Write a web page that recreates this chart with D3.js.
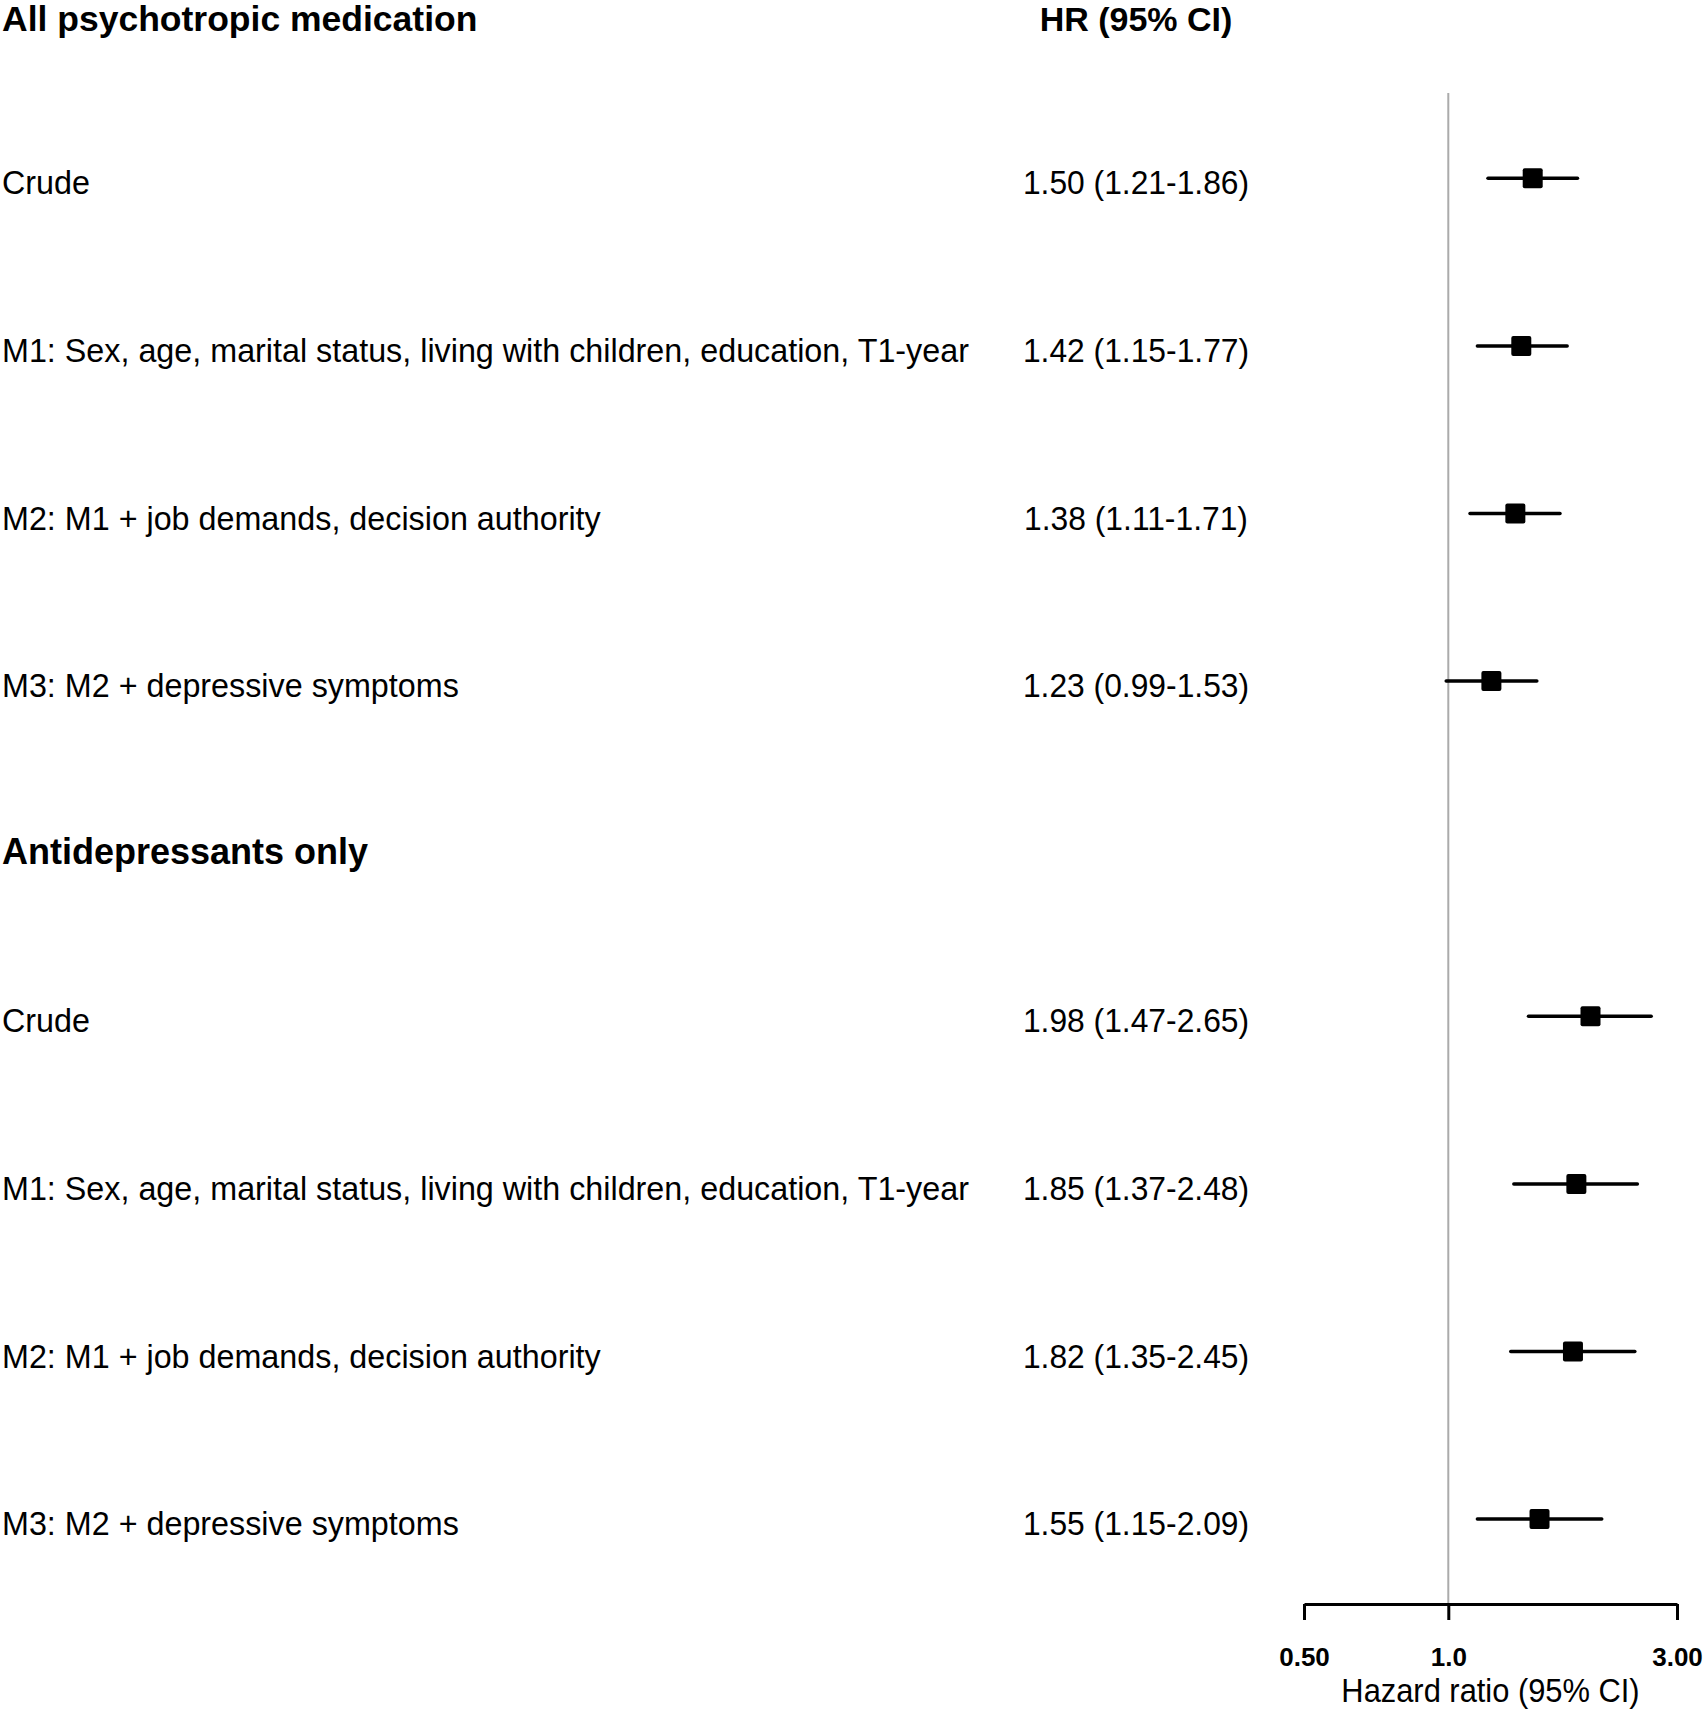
<!DOCTYPE html>
<html>
<head>
<meta charset="utf-8">
<script src="https://cdn.jsdelivr.net/npm/d3@7"></script>
<style>
  html, body { margin: 0; padding: 0; background: #fff; }
  svg { display: block; font-family: "Liberation Sans", Arial, sans-serif; }
</style>
</head>
<body>
<svg id="chart" width="1703" height="1715"></svg>
<script>
// ---- data ----
const groupTitles = ["All psychotropic medication", "Antidepressants only"];
const modelLabels = [
  "Crude",
  "M1: Sex, age, marital status, living with children, education, T1-year",
  "M2: M1 + job demands, decision authority",
  "M3: M2 + depressive symptoms"
];
const hrAll = [1.50, 1.42, 1.38, 1.23];
const loAll = [1.21, 1.15, 1.11, 0.99];
const hiAll = [1.86, 1.77, 1.71, 1.53];
const hrAnti = [1.98, 1.85, 1.82, 1.55];
const loAnti = [1.47, 1.37, 1.35, 1.15];
const hiAnti = [2.65, 2.48, 2.45, 2.09];
const tickValues = [0.5, 1.0, 3.0];
const tickLabels = ["0.50", "1.0", "3.00"];
const columnHeader = "HR (95% CI)";
const axisTitle = "Hazard ratio (95% CI)";

// ---- build rows ----
const fmt = d3.format(".2f");
const rows = [];
[[hrAll, loAll, hiAll], [hrAnti, loAnti, hiAnti]].forEach((s, g) => {
  rows.push({ type: "header", label: groupTitles[g] });
  modelLabels.forEach((lab, i) => {
    rows.push({ type: "est", label: lab, hr: s[0][i], lo: s[1][i], hi: s[2][i] });
  });
});

const svg = d3.select("#chart");
const y = d3.scalePoint().domain(d3.range(rows.length)).range([10.7, 1519.1]);
const x = d3.scaleLog().domain([0.5, 3]).range([1304, 1677]);
const axisY = 1604;
const valueX = 1136;

function narrowText(px, py, size, txt, anchor, sx) {
  return svg.append("text")
    .attr("transform", `translate(${px},${py}) scale(${sx},1)`)
    .attr("font-size", size)
    .attr("text-anchor", anchor || "start")
    .attr("fill", "#000")
    .text(txt);
}

// headers / labels
rows.forEach((r, i) => {
  if (r.type === "header") {
    svg.append("text")
      .attr("x", 2)
      .attr("y", Math.max(y(i) + 15, 31))
      .attr("font-size", i === 0 ? 35.5 : 36)
      .attr("font-weight", "bold")
      .attr("fill", "#000")
      .text(r.label);
  } else {
    narrowText(2, y(i) + 16, 34, r.label, "start", 0.95);
    narrowText(valueX, y(i) + 16, 34, `${fmt(r.hr)} (${fmt(r.lo)}-${fmt(r.hi)})`, "middle", 0.935);
  }
});

svg.append("text")
  .attr("x", valueX)
  .attr("y", 31)
  .attr("font-size", 34)
  .attr("font-weight", "bold")
  .attr("text-anchor", "middle")
  .attr("fill", "#000")
  .text(columnHeader);

// reference line at 1
svg.append("line")
  .attr("x1", x(1)).attr("x2", x(1))
  .attr("y1", 93).attr("y2", axisY)
  .attr("stroke", "#ababab")
  .attr("stroke-width", 2);

// CIs and markers
const est = rows.map((r, i) => ({ ...r, i })).filter(r => r.type === "est");
svg.selectAll("line.ci").data(est).join("line")
  .attr("class", "ci")
  .attr("x1", d => x(d.lo)).attr("x2", d => x(d.hi))
  .attr("y1", d => y(d.i)).attr("y2", d => y(d.i))
  .attr("stroke", "#000")
  .attr("stroke-width", 3.5)
  .attr("stroke-linecap", "round");
svg.selectAll("rect.pt").data(est).join("rect")
  .attr("class", "pt")
  .attr("x", d => x(d.hr) - 10).attr("y", d => y(d.i) - 10)
  .attr("width", 20).attr("height", 20)
  .attr("rx", 2)
  .attr("fill", "#000");

// axis
const axis = d3.axisBottom(x)
  .tickValues(tickValues)
  .tickFormat((d, i) => tickLabels[i])
  .tickSize(16)
  .tickSizeOuter(0)
  .tickPadding(28);
const gAxis = svg.append("g").attr("transform", `translate(0,${axisY})`).call(axis);
gAxis.select(".domain").attr("stroke", "#000").attr("stroke-width", 3);
gAxis.selectAll(".tick line").attr("stroke", "#000").attr("stroke-width", 3);
gAxis.selectAll(".tick text")
  .attr("font-size", 26)
  .attr("font-weight", "bold")
  .attr("font-family", "\"Liberation Sans\", Arial, sans-serif")
  .attr("fill", "#000");

narrowText((x.range()[0] + x.range()[1]) / 2, 1702, 33, axisTitle, "middle", 0.935);
</script>
</body>
</html>
